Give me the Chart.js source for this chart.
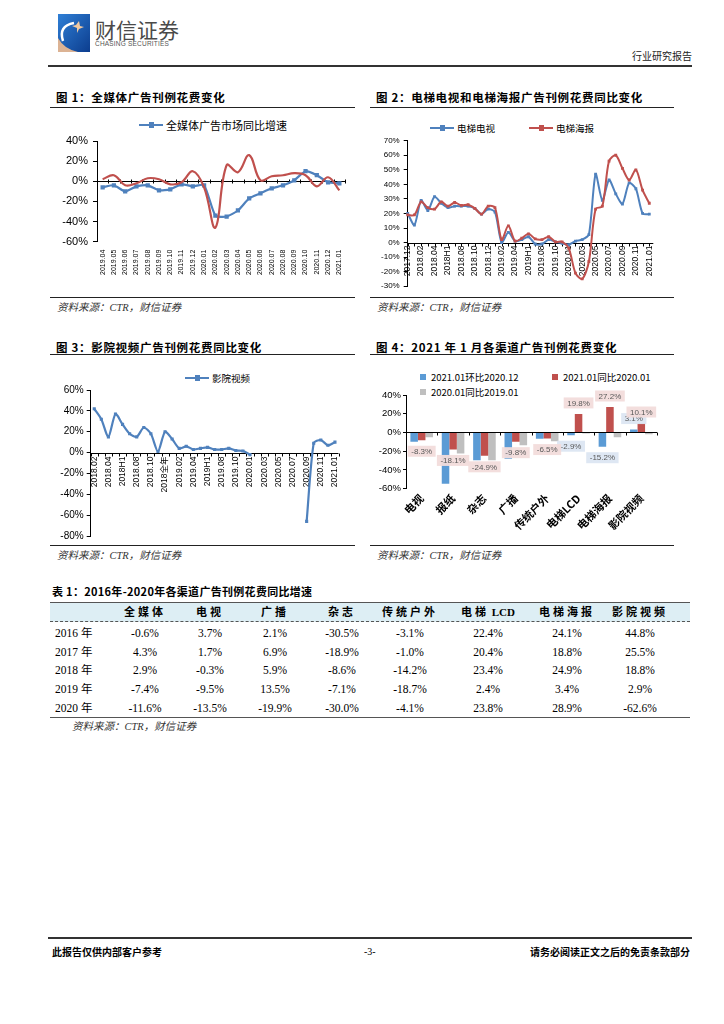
<!DOCTYPE html>
<html><head><meta charset="utf-8">
<script src="https://cdn.jsdelivr.net/npm/chart.js@4.4.1/dist/chart.umd.min.js"></script>
<style>
body{margin:0;background:#fff;width:724px;height:1024px;position:relative;overflow:hidden;font-family:"Noto Sans CJK SC",sans-serif;color:#000;}
.t{position:absolute;white-space:nowrap;line-height:14px;}
.title{font-size:11.5px;font-weight:bold;letter-spacing:0.7px;}
.rule{position:absolute;height:0;border-top:1px solid #222;}
.src{font-family:"Liberation Serif","Noto Sans CJK SC",serif;font-style:italic;font-size:10.5px;color:#333;}
canvas{position:absolute;}
.leg{position:absolute;white-space:nowrap;line-height:14px;display:flex;align-items:center;}
.ls{display:inline-block;width:24px;height:2px;background:var(--c);position:relative;margin-right:3px;}
.ls::after{content:'';position:absolute;left:9.5px;top:-2px;width:5px;height:6px;background:var(--c);}
.sq{display:inline-block;width:6px;height:6px;background:var(--c);margin-right:5px;}
.cell{position:absolute;white-space:nowrap;line-height:14px;transform:translateX(-50%);font-family:"Liberation Serif","Noto Sans CJK SC",serif;font-size:11.5px;}
.hcell{position:absolute;white-space:nowrap;line-height:14px;transform:translateX(-50%);font-family:"Liberation Serif","Noto Sans CJK SC",serif;font-weight:bold;font-size:11px;letter-spacing:3px;}
.hcell .lat{letter-spacing:0;}
</style></head>
<body>
<!-- page header -->
<svg style="position:absolute;left:58px;top:14px" width="32" height="38" viewBox="0 0 32 38">
  <defs><linearGradient id="lg" x1="0" y1="0" x2="1" y2="1"><stop offset="0" stop-color="#2f7fd6"/><stop offset="1" stop-color="#0c3d8e"/></linearGradient></defs>
  <rect x="0" y="0" width="32" height="38" fill="url(#lg)"/>
  <path d="M0 38 L0 24 Q6 35 20 38 Z" fill="#dcb394"/>
  <path d="M5 27 Q0 12 16 9" stroke="#fff" stroke-width="2.5" fill="none"/>
  <path d="M18 11 L21 7 L22 12 L26 13 L21 15 L19 19 L19 14 L14 12 Z" fill="#f1c9a0"/>
</svg>
<div class="t" style="left:95px;top:16px;font-size:21px;line-height:26px;color:#4a4a4a;">财信证券</div>
<div class="t" style="left:95px;top:39px;font-size:6.5px;line-height:10px;color:#555;font-family:'Liberation Sans';letter-spacing:0.2px;">CHASING SECURITIES</div>
<div class="t" style="left:632px;top:49px;font-size:10px;color:#222;">行业研究报告</div>
<div class="rule" style="left:48px;top:65px;width:644px;border-top:2px solid #333;"></div>

<!-- figure titles -->
<div class="t title" style="left:56px;top:90px;">图 1：全媒体广告刊例花费变化</div>
<div class="t title" style="left:376px;top:90px;">图 2：电梯电视和电梯海报广告刊例花费同比变化</div>
<div class="rule" style="left:50px;top:107px;width:305px;"></div>
<div class="rule" style="left:370px;top:107px;width:304px;"></div>
<div class="rule" style="left:50px;top:297px;width:305px;"></div>
<div class="rule" style="left:370px;top:297px;width:304px;"></div>
<div class="t src" style="left:57px;top:301px;">资料来源：CTR，财信证券</div>
<div class="t src" style="left:377px;top:301px;">资料来源：CTR，财信证券</div>

<div class="t title" style="left:56px;top:340px;">图 3：影院视频广告刊例花费同比变化</div>
<div class="t title" style="left:376px;top:340px;">图 4：2021 年 1 月各渠道广告刊例花费变化</div>
<div class="rule" style="left:50px;top:354px;width:305px;"></div>
<div class="rule" style="left:370px;top:354px;width:304px;"></div>
<div class="rule" style="left:50px;top:545px;width:305px;"></div>
<div class="rule" style="left:370px;top:545px;width:304px;"></div>
<div class="t src" style="left:57px;top:549px;">资料来源：CTR，财信证券</div>
<div class="t src" style="left:377px;top:549px;">资料来源：CTR，财信证券</div>

<!-- legends -->
<div class="leg" style="left:139px;top:118px;font-size:11px;"><span class="ls" style="--c:#4F81BD"></span>全媒体广告市场同比增速</div>
<div class="leg" style="left:430px;top:121px;font-size:9.5px;"><span class="ls" style="--c:#4F81BD"></span>电梯电视</div>
<div class="leg" style="left:529px;top:121px;font-size:9.5px;"><span class="ls" style="--c:#C0504D"></span>电梯海报</div>
<div class="leg" style="left:185px;top:371px;font-size:9.5px;"><span class="ls" style="--c:#4F81BD"></span>影院视频</div>
<div class="leg" style="left:420px;top:370px;font-size:9.5px;"><span class="sq" style="--c:#5B9BD5"></span>2021.01环比2020.12</div>
<div class="leg" style="left:552px;top:370px;font-size:9.5px;"><span class="sq" style="--c:#C0504D"></span>2021.01同比2020.01</div>
<div class="leg" style="left:420px;top:385px;font-size:9.5px;"><span class="sq" style="--c:#BFBFBF"></span>2020.01同比2019.01</div>

<canvas id="c1" width="310" height="185" style="left:50px;top:110px;"></canvas>
<canvas id="c2" width="320" height="185" style="left:370px;top:110px;"></canvas>
<canvas id="c3" width="310" height="185" style="left:50px;top:360px;"></canvas>
<canvas id="c4" width="320" height="185" style="left:370px;top:360px;"></canvas>

<!-- table -->
<div class="t title" style="left:52px;top:584px;font-size:11px;letter-spacing:0.3px;">表 1：2016年-2020年各渠道广告刊例花费同比增速</div>
<div style="position:absolute;left:50px;top:602px;width:640px;height:19px;background:#DDEEF4;border-top:1px solid #555;"></div>
<div style="position:absolute;left:50px;top:621px;width:640px;height:0;border-top:1px dashed #555;"></div>
<div style="position:absolute;left:50px;top:717px;width:640px;height:0;border-top:1.5px solid #555;"></div>
<div id="tbl"></div>
<div class="t src" style="left:72px;top:720px;">资料来源：CTR，财信证券</div>

<!-- footer -->
<div class="rule" style="left:48px;top:937px;width:644px;border-top:2px solid #333;"></div>
<div class="t" style="left:52px;top:945px;font-size:10px;font-weight:bold;">此报告仅供内部客户参考</div>
<div class="t" style="left:364px;top:945px;font-size:10px;font-family:'Liberation Serif';">-3-</div>
<div class="t" style="right:34px;top:945px;font-size:10px;font-weight:bold;">请务必阅读正文之后的免责条款部分</div>

<script>
// ---------------- data ----------------
const c1Labels = ['2019.04','2019.05','2019.06','2019.07','2019.08','2019.09','2019.10','2019.11','2019.12','2020.01','2020.02','2020.03','2020.04','2020.05','2020.06','2020.07','2020.08','2020.09','2020.10','2020.11','2020.12','2021.01'];
const c1AllMedia = [-6,-4,-10,-5,-4,-9,-8,-3,-5,-4,-34,-35,-29,-17,-12,-7,-4,1,10,6,-1,-2];
const c1Red = [2,6,-4,-2,3,2,-3,-1,10,-6,-46,16,9,26,1,5,6,8,6,-5,4,-9];

const c2Labels = ['2017.12','2018.01','2018.02','2018.03','2018.04','2018.05','2018H1','2018.07','2018.08','2018.09','2018.10','2018.11','2018.12','2019.01','2019.02','2019.03','2019.04','2019.05','2019H1','2019.07','2019.08','2019.09','2019.10','2019.11','2020.01','2020.02','2020.03','2020.04','2020.05','2020.06','2020.07','2020.08','2020.09','2020.10','2020.11','2020.12','2021.01'];
const c2ElevTV = [20,12,29,22,31.5,27,24,25,25,25,23.5,19.5,23,21,0,7,1,2,4,-1,-1,2,0.5,-0.5,-1.5,1,2,5.5,47,29,43,33.5,26.5,41,37,20,19.5];
const c2ElevPoster = [19,19,28,24,23,28,25,27.5,25.5,26,23.5,19.5,25,24,2,11.5,1,3,6,2.5,2,4,0.5,0.5,-4,-21,-25,-13,23,25,56,60,51,43,50,36,27];

const c3Labels = ['2018.02','2018.03','2018.04','2018.05','2018H1','2018.07','2018.08','2018.09','2018.10','2018.11','2018全年','2019.01','2019.02','2019.03','2019.04','2019.05','2019H1','2019.07','2019.08','2019.09','2019.10','2019.11','2020.01','2020.02','2020.03','2020.04','2020.05','2020.06','2020.07','2020.08','2020.09','2020.10','2020.11','2020.12','2021.01'];
const c3Cinema = [42,32,15,37,27,18,15,24,18,1,20,13,4,6,3,4,5,3,3,4,2,1.5,-2,null,null,null,null,null,null,null,-66,9,12,7,10];

const c4Cats = ['电视','报纸','杂志','广播','传统户外','电梯LCD','电梯海报','影院视频'];
const c4Mom = [-10,-54.6,-29.6,-28,-6.8,-2.9,-15.2,3.1];
const c4Yoy = [-8.3,-18.1,-24.9,-9.8,-6.5,19.8,27.2,10.1];
const c4Prev = [-5,-22.5,-29.6,-13.6,-9.3,-1,-5,-2];
const c4MomLabeled = [5,6,7];
const c4YoyLabeled = [0,1,2,3,4,5,6,7];

const tblColsCJK = ['全媒体','电视','广播','杂志','传统户外','电梯','电梯海报','影院视频'];
const tblColsLat = ['','','','','',' LCD','',''];
const tblYears = ['2016','2017','2018','2019','2020'];
const row2016 = [-0.6,3.7,2.1,-30.5,-3.1,22.4,24.1,44.8];
const row2017 = [4.3,1.7,6.9,-18.9,-1.0,20.4,18.8,25.5];
const row2018 = [2.9,-0.3,5.9,-8.6,-14.2,23.4,24.9,18.8];
const row2019 = [-7.4,-9.5,13.5,-7.1,-18.7,2.4,3.4,2.9];
const row2020 = [-11.6,-13.5,-19.9,-30.0,-4.1,23.8,28.9,-62.6];

// ---------------- table ----------------
const colX = [145,210,275,342,410,488,567,640];
const rowY = [626,645,663,682,701];
const tbl = document.getElementById('tbl');
tblColsCJK.forEach((c,i)=>{const d=document.createElement('div');d.className='hcell';d.style.left=colX[i]+'px';d.style.top='605px';d.textContent=c;
  if(tblColsLat[i]){const s=document.createElement('span');s.className='lat';s.textContent=tblColsLat[i];d.appendChild(s);}
  tbl.appendChild(d);});
[row2016,row2017,row2018,row2019,row2020].forEach((r,ri)=>{
  const l=document.createElement('div');l.className='cell';l.style.transform='none';l.style.left='55px';l.style.top=rowY[ri]+'px';l.textContent=tblYears[ri]+' 年';tbl.appendChild(l);
  r.forEach((v,ci)=>{const d=document.createElement('div');d.className='cell';d.style.left=colX[ci]+'px';d.style.top=rowY[ri]+'px';d.textContent=v.toFixed(1)+'%';tbl.appendChild(d);});
});

// ---------------- charts ----------------
Chart.defaults.font.family = '"Liberation Sans","Noto Sans CJK SC",sans-serif';
Chart.defaults.color = '#000';
const BLUE='#4F81BD', RED='#C0504D';

const zeroAxis = {
  id:'zeroAxis',
  beforeDatasetsDraw(chart, args, o){
    const {ctx, chartArea:ca, scales:{x,y}} = chart;
    const y0 = Math.round(y.getPixelForValue(0))+0.5;
    ctx.save(); ctx.strokeStyle='#000'; ctx.lineWidth=1; ctx.beginPath();
    ctx.moveTo(ca.left, y0); ctx.lineTo(ca.right+(o.extend||0), y0);
    const n = x.ticks.length;
    if (o.between) {
      for (let i=0;i<=n;i++){ const px=Math.round(ca.left+(ca.right-ca.left)*i/n)+0.5; ctx.moveTo(px,y0-(o.up||0)); ctx.lineTo(px,y0+(o.down||3)); }
    } else {
      for (let i=0;i<n;i++){ const px=Math.round(x.getPixelForValue(i))+0.5; ctx.moveTo(px,y0-(o.up||0)); ctx.lineTo(px,y0+(o.down||3)); }
    }
    ctx.stroke(); ctx.restore();
  }
};
const barLabels = {
  id:'barLabels',
  afterDatasetsDraw(chart){
    const ctx=chart.ctx;
    chart.data.datasets.forEach((ds,di)=>{
      if(!ds.labelIdx) return;
      const meta=chart.getDatasetMeta(di);
      ds.labelIdx.forEach(i=>{
        const el=meta.data[i], v=ds.data[i];
        const txt=v.toFixed(1)+'%';
        ctx.save();
        ctx.font='8px "Liberation Sans"';
        const w=ctx.measureText(txt).width+7, h=11;
        const cy = v<0 ? el.y+11 : el.y-11;
        ctx.fillStyle=ds.labelBg; ctx.fillRect(el.x-w/2, cy-h/2, w, h);
        ctx.fillStyle='#595959'; ctx.textAlign='center'; ctx.textBaseline='middle';
        ctx.fillText(txt, el.x, cy+0.5);
        ctx.restore();
      });
    });
  }
};

function yScale(min,max,step,size,W,tl,pad){
  return {min:min,max:max,
    ticks:{stepSize:step,callback:v=>v+'%',font:{size:size},color:'#000',padding:pad},
    grid:{display:true,drawOnChartArea:false,drawTicks:true,tickLength:tl,color:'#000'},
    border:{display:true,color:'#000'},
    afterFit(s){s.width=W;}};
}
function common(pad, zopt){
  return {responsive:false, animation:false, devicePixelRatio:1,
    layout:{padding:pad},
    plugins:{legend:{display:false},tooltip:{enabled:false},zeroAxis:zopt},
  };
}

// Chart 1
new Chart(document.getElementById('c1'),{
  type:'line',
  data:{labels:c1Labels,datasets:[
    {label:'全媒体广告市场同比增速',data:c1AllMedia,borderColor:BLUE,backgroundColor:BLUE,borderWidth:2.2,pointStyle:'rect',pointRadius:3,pointBorderWidth:0,tension:0.2,order:1},
    {label:'series2',data:c1Red,borderColor:RED,backgroundColor:RED,borderWidth:2.2,pointRadius:0,tension:0.4,order:0}
  ]},
  options:Object.assign(common({top:31,right:15,left:0,bottom:0},{between:true,up:2,down:2}),{
    scales:{
      x:{offset:true,position:'bottom',grid:{display:false,drawTicks:false},border:{display:false},
         ticks:{autoSkip:false,minRotation:90,maxRotation:90,font:{size:7},color:'#000',padding:8},
         afterFit(s){s.height=53.3;}},
      y:yScale(-60,40,20,11,47,4,5)
    }}),
  plugins:[zeroAxis]
});

// Chart 2
new Chart(document.getElementById('c2'),{
  type:'line',
  data:{labels:c2Labels,datasets:[
    {label:'电梯电视',data:c2ElevTV,borderColor:BLUE,backgroundColor:BLUE,borderWidth:2,pointStyle:'rect',pointRadius:2,pointBorderWidth:0,tension:0.25,order:1},
    {label:'电梯海报',data:c2ElevPoster,borderColor:RED,backgroundColor:RED,borderWidth:2,pointStyle:'rect',pointRadius:2,pointBorderWidth:0,tension:0.3,order:0}
  ]},
  options:Object.assign(common({top:30.7,right:40.7,left:0,bottom:0},{between:false,up:0,down:3,extend:4}),{
    scales:{
      x:{offset:false,position:{y:0},grid:{display:false,drawTicks:false},border:{display:false},
         ticks:{autoSkip:false,minRotation:90,maxRotation:90,font:{size:8.5},color:'#000',padding:3,
           callback:function(v,i){return i%2===0?this.getLabelForValue(v):'';}},
         afterFit(s){s.height=22.3;}},
      y:yScale(-30,70,10,8,37.7,4,4)
    }}),
  plugins:[zeroAxis]
});

// Chart 3
new Chart(document.getElementById('c3'),{
  type:'line',
  data:{labels:c3Labels,datasets:[
    {label:'影院视频',data:c3Cinema,borderColor:BLUE,backgroundColor:BLUE,borderWidth:2.2,pointStyle:'rect',pointRadius:2.2,pointBorderWidth:0,tension:0.25,spanGaps:false}
  ]},
  options:Object.assign(common({top:30,right:21.5,left:0,bottom:0},{between:true,up:0,down:3}),{
    scales:{
      x:{offset:true,position:{y:0},grid:{display:false,drawTicks:false},border:{display:false},
         ticks:{autoSkip:false,minRotation:90,maxRotation:90,font:{size:8.5},color:'#000',padding:4,
           callback:function(v,i){return i%2===0?this.getLabelForValue(v):'';}},
         afterFit(s){s.height=16.7;}},
      y:yScale(-80,60,20,10,40.7,4,3)
    }}),
  plugins:[zeroAxis]
});

// Chart 4
new Chart(document.getElementById('c4'),{
  type:'bar',
  data:{labels:c4Cats,datasets:[
    {label:'2021.01环比2020.12',data:c4Mom,backgroundColor:'#5B9BD5',categoryPercentage:0.72,barPercentage:1,labelIdx:c4MomLabeled,labelBg:'rgba(220,230,242,0.95)'},
    {label:'2021.01同比2020.01',data:c4Yoy,backgroundColor:RED,categoryPercentage:0.72,barPercentage:1,labelIdx:c4YoyLabeled,labelBg:'rgba(242,220,219,0.95)'},
    {label:'2020.01同比2019.01',data:c4Prev,backgroundColor:'#BFBFBF',categoryPercentage:0.72,barPercentage:1}
  ]},
  options:Object.assign(common({top:35,right:33,left:0,bottom:0},{between:true,up:0,down:3}),{
    scales:{
      x:{offset:true,position:'bottom',grid:{display:false,drawTicks:false},border:{display:false},
         ticks:{autoSkip:false,minRotation:45,maxRotation:45,font:{size:11,weight:'bold',family:'"Noto Sans CJK SC"'},color:'#000',padding:3},
         afterFit(s){s.height=56.3;}},
      y:yScale(-60,40,20,9.5,36,3,2)
    }}),
  plugins:[zeroAxis,barLabels]
});
</script>
</body></html>
